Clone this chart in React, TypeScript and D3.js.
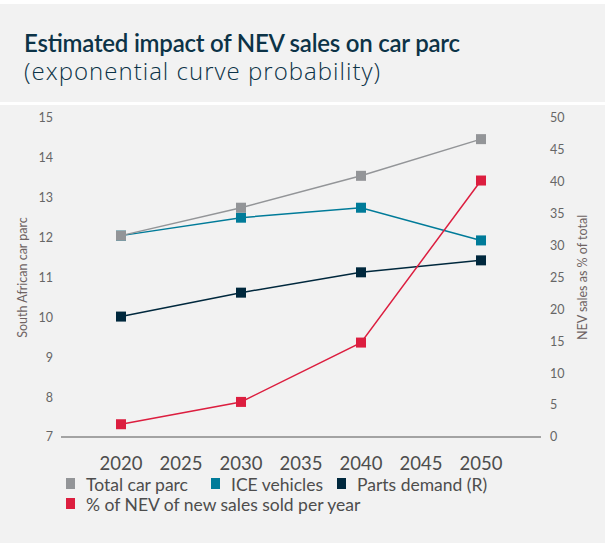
import React from "react";
import * as d3 from "d3";

// years on the x axis
const years = [2020, 2030, 2040, 2050];
const xTicks = [2020, 2025, 2030, 2035, 2040, 2045, 2050];

// left axis series (millions of vehicles)
const totalCarParc = [12.05, 12.75, 13.55, 14.47];
const iceVehicles = [12.05, 12.5, 12.75, 11.93];
const partsDemand = [10.02, 10.62, 11.13, 11.43];

// right axis series (% of new sales)
const nevShare = [2.0, 5.5, 14.8, 40.2];

const leftTicks = [7, 8, 9, 10, 11, 12, 13, 14, 15];
const rightTicks = [0, 5, 10, 15, 20, 25, 30, 35, 40, 45, 50];

const legendRow1 = [
  { label: "Total car parc", color: "#939598" },
  { label: "ICE vehicles", color: "#007b99" },
  { label: "Parts demand (R)", color: "#00283d" },
];
const legendRow2 = [{ label: "% of NEV of new sales sold per year", color: "#dc1e3f" }];

const W = 609;
const H = 543;
const FONT = "Lato, 'Open Sans', sans-serif";

export default function App() {
  const x = d3.scaleLinear().domain([2015, 2055]).range([61, 541]);
  const yL = d3.scaleLinear().domain([7, 15]).range([437, 118]);
  const yR = d3.scaleLinear().domain([0, 50]).range([437, 118]);

  const line = (vals: number[], y: d3.ScaleLinear<number, number>) =>
    d3
      .line<number>()
      .x((_, i) => x(years[i]))
      .y((d) => y(d))(vals) as string;

  const series = [
    { vals: partsDemand, y: yL, color: "#00283d" },
    { vals: iceVehicles, y: yL, color: "#007b99" },
    { vals: totalCarParc, y: yL, color: "#939598" },
    { vals: nevShare, y: yR, color: "#dc1e3f" },
  ];

  const sq = 10;
  const midY = (yL(7) + yL(15)) / 2;

  return (
    <svg
      width={W}
      height={H}
      style={{ position: "absolute", left: 0, top: 0, background: "#fff" }}
      fontFamily={FONT}
    >
      {/* panels */}
      <rect x={0} y={4} width={605} height={98} fill="#f2f2f2" />
      <rect x={0} y={105} width={605} height={438} fill="#f2f2f2" />

      {/* title */}
      <text
        x={24}
        y={52}
        fontSize={24}
        fontWeight={600}
        fill="#0c3347"
        textLength={436}
        lengthAdjust="spacing"
      >
        Estimated impact of NEV sales on car parc
      </text>
      <text
        x={24}
        y={80}
        fontSize={24}
        fontWeight={300}
        fill="#0c3347"
        fontFamily="'Open Sans', sans-serif"
        textLength={356}
        lengthAdjust="spacing"
      >
        (exponential curve probability)
      </text>

      {/* left ticks */}
      {leftTicks.map((t) => (
        <text
          key={"l" + t}
          x={53}
          y={yL(t)}
          dy="0.35em"
          textAnchor="end"
          fontSize={12.5}
          fill="#666"
        >
          {t}
        </text>
      ))}
      {/* right ticks */}
      {rightTicks.map((t) => (
        <text key={"r" + t} x={550} y={yR(t)} dy="0.35em" fontSize={12.5} fill="#666">
          {t}
        </text>
      ))}

      {/* axis titles */}
      <text
        transform={`translate(27,${midY}) rotate(-90)`}
        textAnchor="middle"
        fontSize={12.5}
        fill="#6e6262"
      >
        South African car parc
      </text>
      <text
        transform={`translate(587,${midY}) rotate(-90)`}
        textAnchor="middle"
        fontSize={12.5}
        fill="#6e6262"
      >
        NEV sales as % of total
      </text>

      {/* baseline */}
      <line x1={x(2015)} x2={x(2055)} y1={yL(7)} y2={yL(7)} stroke="#555" strokeWidth={1} />

      {/* x ticks */}
      {xTicks.map((t) => (
        <text key={"x" + t} x={x(t)} y={470} textAnchor="middle" fontSize={18.5} fill="#4d4d4d">
          {t}
        </text>
      ))}

      {/* series */}
      {series.map((s, si) => (
        <g key={si}>
          <path d={line(s.vals, s.y)} fill="none" stroke={s.color} strokeWidth={1.5} />
          {s.vals.map((v, i) => (
            <rect
              key={i}
              x={x(years[i]) - sq / 2}
              y={s.y(v) - sq / 2}
              width={sq}
              height={sq}
              fill={s.color}
            />
          ))}
        </g>
      ))}

      {/* legend */}
      {[
        { items: legendRow1, y: 491, xs: [66, 211, 337] },
        { items: legendRow2, y: 511, xs: [66] },
      ].map((row, ri) =>
        row.items.map((it, i) => (
          <g key={ri + "-" + i} transform={`translate(${row.xs[i]},${row.y})`}>
            <rect x={0} y={-13} width={9} height={11} fill={it.color} />
            <text x={20} y={0} fontSize={17.5} fill="#4d4d4d">
              {it.label}
            </text>
          </g>
        ))
      )}
    </svg>
  );
}
